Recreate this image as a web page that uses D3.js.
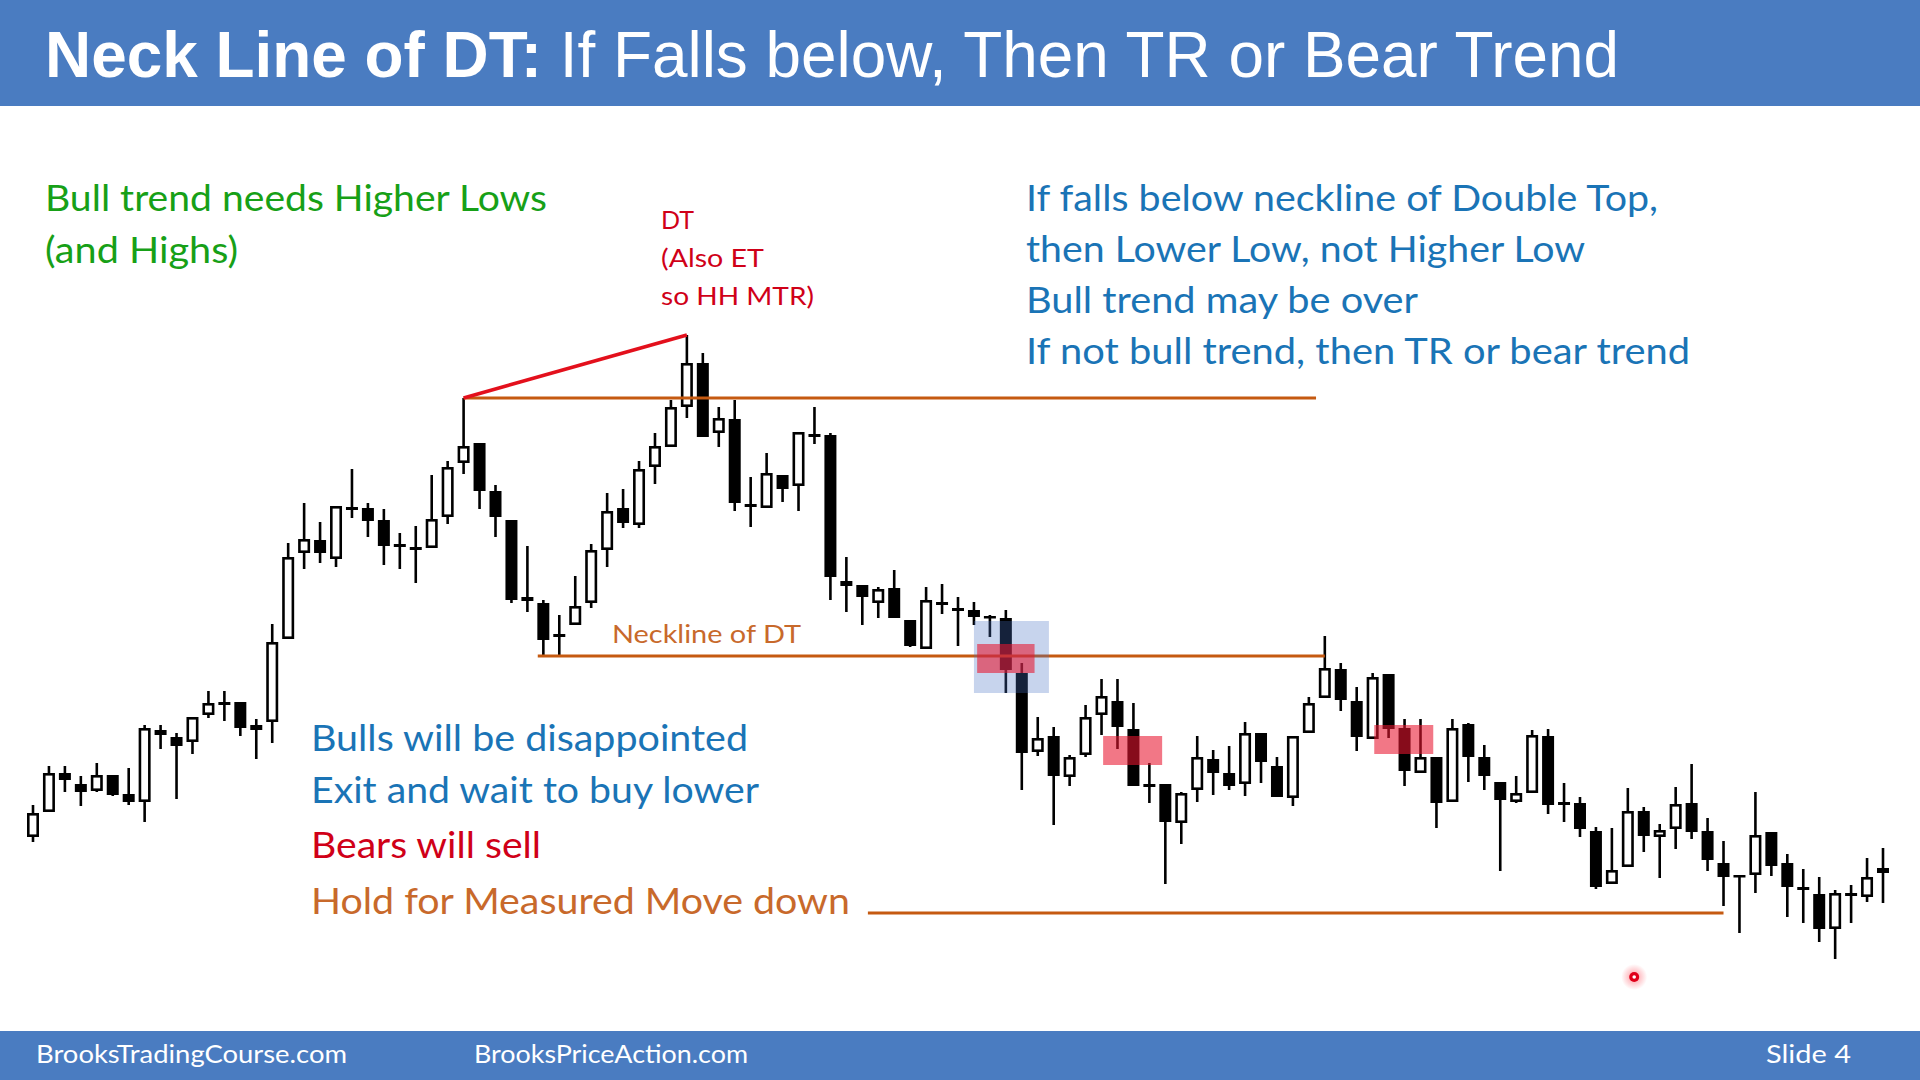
<!DOCTYPE html>
<html><head><meta charset="utf-8">
<script src="https://cdn.jsdelivr.net/npm/d3@7"></script>
<style>html,body{margin:0;padding:0;background:#fff;overflow:hidden}</style>
</head><body><svg id="c" width="1920" height="1080"></svg>
<script>
// ---- candle data (price units) ----
const opens=[163,188,227,216,209,225,206,198,270,263,
258,285,298,298,270,278,361,447,460,441,
493,492,480,456,453,452,483,537,557,509,
480,403,397,366,375,397,450,492,475,533,
553,593,637,567,581,496,492,525,514,566,
565,419,415,397,412,380,351,398,392,390,
384,382,327,248,264,223,245,285,299,271,
216,216,177,210,241,227,216,267,234,202,
267,302,331,299,261,326,272,227,243,198,
276,243,218,198,207,264,198,197,169,116,
133,189,163,171,197,169,137,125,125,168,
137,113,106,71,107,103,127];
const highs=[195,234,234,224,237,225,232,275,275,267,
283,309,309,298,281,376,457,497,478,494,
531,497,491,467,474,525,539,602,557,515,
480,454,400,385,424,456,507,511,539,567,
600,665,647,593,600,523,547,525,568,593,
567,443,415,413,430,380,413,416,403,398,
385,390,337,283,273,245,295,321,321,297,
237,216,208,264,250,254,278,267,243,264,
303,364,337,313,327,326,281,281,243,281,
277,255,218,224,270,271,217,203,173,172,
212,193,176,213,236,182,159,125,208,168,
146,131,123,110,115,142,152];
const lows=[158,188,208,194,208,204,195,178,251,201,
246,282,279,264,241,257,361,431,437,433,
482,463,435,431,417,452,476,526,491,463,
397,388,345,344,375,392,433,472,472,516,
553,582,563,553,489,473,492,498,489,556,
400,388,375,382,382,353,351,386,354,375,
363,307,210,244,175,214,243,265,251,214,
197,116,156,198,205,210,204,217,203,194,
267,302,289,249,261,262,214,227,172,198,
218,210,129,197,207,186,178,163,111,116,
133,148,122,151,161,129,94,67,107,124,
83,77,58,41,77,98,97];
const closes=[187,227,220,208,225,205,198,272,265,254,
283,297,295,272,275,358,443,461,447,494,
490,479,454,453,450,481,533,554,509,483,
400,399,360,363,394,450,489,477,531,554,
593,637,563,582,497,493,527,511,568,563,
423,414,403,411,382,354,400,395,389,383,
382,330,247,262,224,243,283,304,273,214,
213,178,207,243,227,214,267,238,203,264,
297,332,300,263,323,271,229,243,197,272,
243,224,200,207,265,195,195,171,113,130,
189,164,170,196,168,140,123,123,165,134,
113,110,71,107,104,123,132];

// ---- annotation data (bar index, price) ----
const orangeLines=[ // [x0,x1,price]
  [27,80.45,602],[31.65,81,344],[52.35,106,87]];
const dtLine=[[27,602],[41,665]];
const blueBoxes=[[59.0,63.7,379,307]];
const redBoxes=[[59.2,62.8,356,327],[67.1,70.8,264,235],[84.1,87.8,275,246]];
const pointer=[100.4,23];

const svg=d3.select('#c');
const W=1920,H=1080;
const x=d3.scaleLinear().domain([0,116]).range([33,1883]);
const y=d3.scaleLinear().domain([0,700]).range([1000,300]);

const data=opens.map((o,i)=>({i,o,h:highs[i],l:lows[i],c:closes[i]}));
const BW=12, SW=2.6;

svg.append('rect').attr('width',W).attr('height',H).attr('fill','#fff');

// candles
const g=svg.append('g');
g.selectAll('line.wick').data(data).join('line')
  .attr('x1',d=>x(d.i)).attr('x2',d=>x(d.i))
  .attr('y1',d=>y(d.h)).attr('y2',d=>y(d.l))
  .attr('stroke','#000').attr('stroke-width',SW);
g.selectAll('rect.body').data(data).join('rect')
  .each(function(d){
    const top=y(Math.max(d.o,d.c)), bot=y(Math.min(d.o,d.c));
    const s=d3.select(this);
    if(d.c>d.o){
      s.attr('x',x(d.i)-BW/2+SW/2).attr('y',top+SW/2)
       .attr('width',BW-SW).attr('height',Math.max(bot-top-SW,0.6))
       .attr('fill','#fff').attr('stroke','#000').attr('stroke-width',SW);
    } else {
      s.attr('x',x(d.i)-BW/2).attr('y',top)
       .attr('width',BW).attr('height',Math.max(bot-top,2.5))
       .attr('fill','#000');
    }
  });

// lines
svg.selectAll('line.or').data(orangeLines).join('line')
  .attr('x1',d=>x(d[0])).attr('x2',d=>x(d[1]))
  .attr('y1',d=>y(d[2])).attr('y2',d=>y(d[2]))
  .attr('stroke','#C55A11').attr('stroke-width',3.2);
svg.append('path').datum(dtLine)
  .attr('d',d3.line().x(d=>x(d[0])).y(d=>y(d[1])))
  .attr('stroke','#E3101C').attr('stroke-width',3.6).attr('fill','none');

// highlight boxes
svg.selectAll('rect.bb').data(blueBoxes).join('rect')
  .attr('x',d=>x(d[0])).attr('width',d=>x(d[1])-x(d[0]))
  .attr('y',d=>y(d[2])).attr('height',d=>y(d[3])-y(d[2]))
  .attr('fill','#4472C4').attr('fill-opacity',0.3);
svg.selectAll('rect.rb').data(redBoxes).join('rect')
  .attr('x',d=>x(d[0])).attr('width',d=>x(d[1])-x(d[0]))
  .attr('y',d=>y(d[2])).attr('height',d=>y(d[3])-y(d[2]))
  .attr('fill','#E8142E').attr('fill-opacity',0.58);

// header / footer bars
svg.append('rect').attr('x',0).attr('y',0).attr('width',W).attr('height',106).attr('fill','#4A7CC1');
svg.append('rect').attr('x',0).attr('y',1031).attr('width',W).attr('height',49).attr('fill','#4A7CC1');

function txt(t,px,py,size,color,width,family,weight){
  const s=svg.append('text').attr('x',px).attr('y',py)
    .attr('font-family',family||'Lato, "Open Sans", sans-serif')
    .attr('font-size',size).attr('fill',color).attr('font-weight',weight||'normal').text(t);
  if(width) s.attr('textLength',width).attr('lengthAdjust','spacingAndGlyphs');
  return s;
}

// title
const tt=svg.append('text').attr('x',45).attr('y',77)
  .attr('font-family','"Liberation Sans", Arial, sans-serif').attr('font-size',64).attr('fill','#fff')
  .attr('textLength',1574).attr('lengthAdjust','spacingAndGlyphs');
tt.append('tspan').attr('font-weight','bold').text('Neck Line of DT: ');
tt.append('tspan').text('If Falls below, Then TR or Bear Trend');

// footer texts
txt('BrooksTradingCourse.com',36,1063,25,'#fff',311);
txt('BrooksPriceAction.com',474,1063,25,'#fff',274);
txt('Slide  4',1766,1063,25,'#fff',85);

// green
const GREEN='#17A017', BLUE='#1A74B6', RED='#D00018', ORANGE='#C8692B';
txt('Bull trend needs Higher Lows',45,211,37,GREEN,502);
txt('(and Highs)',45,263,37,GREEN,193);

// DT label
txt('DT',661,229,25,RED,33);
txt('(Also ET',661,267,25,RED,103);
txt('so HH MTR)',661,305,25,RED,153);

// right blue
txt('If falls below neckline of Double Top,',1026,211,37,BLUE,632);
txt('then Lower Low, not Higher Low',1026,262,37,BLUE,559);
txt('Bull trend may be over',1026,313,37,BLUE,392);
txt('If not bull trend, then TR or bear trend',1026,364,37,BLUE,664);

// neckline label
txt('Neckline of DT',612,643,25,ORANGE,189);

// bottom-left
txt('Bulls will be disappointed',311,751,37,BLUE,437);
txt('Exit and wait to buy lower',311,803,37,BLUE,448);
txt('Bears will sell',311,858,37,RED,230);
txt('Hold for Measured Move down',311,914,37,ORANGE,539);

// pointer dot
const defs=svg.append('defs');
const rg=defs.append('radialGradient').attr('id','glow');
rg.append('stop').attr('offset','0%').attr('stop-color','#ff3040').attr('stop-opacity',0.5);
rg.append('stop').attr('offset','100%').attr('stop-color','#ff3040').attr('stop-opacity',0);
svg.append('circle').attr('cx',x(pointer[0])).attr('cy',y(pointer[1])).attr('r',13).attr('fill','url(#glow)');
svg.append('circle').attr('cx',x(pointer[0])).attr('cy',y(pointer[1])).attr('r',5).attr('fill','#E0001A');
svg.append('circle').attr('cx',x(pointer[0])).attr('cy',y(pointer[1])).attr('r',1.8).attr('fill','#fff');
</script></body></html>
